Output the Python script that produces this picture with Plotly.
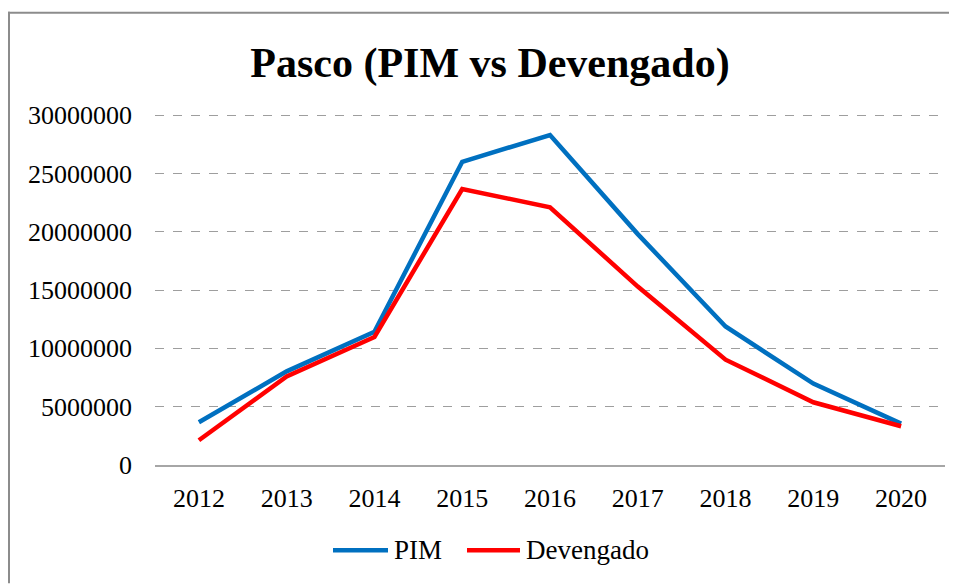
import plotly.graph_objects as go

years = ["2012", "2013", "2014", "2015", "2016", "2017", "2018", "2019", "2020"]
pim = [3660000, 8030000, 11430000, 26000000, 28300000, 19800000, 11880000, 6980000, 3550000]
devengado = [2120000, 7600000, 10980000, 23670000, 22100000, 15300000, 9030000, 5380000, 3320000]
y_ticks = [0, 5000000, 10000000, 15000000, 20000000, 25000000, 30000000]
series_names = ["PIM", "Devengado"]
series_colors = ["#0070C0", "#FF0000"]

# page has an 8px body margin; figure coordinates = page coordinates - 8
OFF = 8
W, H = 957 - OFF, 584 - OFF
plot_left, plot_right = 155 - OFF, 945 - OFF
y_zero = 465.5 - OFF
px_per_unit = 350.5 / 30000000
y_max = 30100000
plot_top = y_zero - y_max * px_per_unit

L = plot_left
R = W - plot_right
T = plot_top
B = H - y_zero
pw, ph = plot_right - plot_left, y_zero - plot_top

def px(x_page):
    return (x_page - OFF - L) / pw

def py(y_page):
    return (y_zero - (y_page - OFF)) / ph

font_family = "Liberation Serif, Times New Roman, serif"

fig = go.Figure()
for name, vals, color in zip(series_names, [pim, devengado], series_colors):
    fig.add_trace(go.Scatter(x=years, y=vals, mode="lines", name=name,
                             line=dict(color=color, width=4.5), showlegend=False))

# custom legend (longer line keys, like the reference)
legend_items = [(333, 388, 392), (467, 520, 524)]
shapes = []
annotations = []
leg_y = 551
for (x0, x1, xt), name, color in zip(legend_items, series_names, series_colors):
    shapes.append(dict(type="line", xref="paper", yref="paper",
                       x0=px(x0), x1=px(x1), y0=py(leg_y), y1=py(leg_y),
                       line=dict(color=color, width=4.5)))
    annotations.append(dict(text=name, xref="paper", yref="paper", x=px(xt), y=py(leg_y),
                            xanchor="left", yanchor="middle", showarrow=False,
                            font=dict(size=27, family=font_family, color="black")))

# outer frame: top edge and left edge only (others are outside the view)
frame = dict(color="#8C8C8C", width=2)
shapes.append(dict(type="line", xref="paper", yref="paper",
                   x0=px(8), x1=px(957), y0=py(12.5), y1=py(12.5), line=frame, layer="below"))
shapes.append(dict(type="line", xref="paper", yref="paper",
                   x0=px(9), x1=px(9), y0=py(11.5), y1=py(584), line=frame, layer="below"))

fig.update_layout(
    width=W, height=H,
    margin=dict(l=L, r=R, t=T, b=B, pad=0),
    paper_bgcolor="white", plot_bgcolor="white",
    font=dict(family=font_family, color="black", size=26),
    title=dict(text="<b>Pasco (PIM vs Devengado)</b>", x=px(490), xref="paper",
               xanchor="center", y=1 - (62 - OFF) / H, yanchor="middle",
               font=dict(size=42, family=font_family, color="black")),
    showlegend=False,
    xaxis=dict(showgrid=False, showline=True, linecolor="#A6A6A6", linewidth=2,
               ticks="", ticklen=0, ticklabelstandoff=9, tickfont=dict(size=26),
               range=[-0.5, 8.5]),
    yaxis=dict(range=[0, y_max], tickvals=y_ticks, tickformat="d",
               showgrid=True, gridcolor="#9E9E9E", griddash="dash", gridwidth=1,
               showline=False, zeroline=False, ticks="", ticklen=0, ticklabelstandoff=22,
               tickfont=dict(size=26)),
    shapes=shapes,
    annotations=annotations,
)

fig.write_html(
    "out.html",
    config={"displayModeBar": False},
    post_script="document.documentElement.style.overflow='hidden';document.body.style.overflow='hidden';",
)
